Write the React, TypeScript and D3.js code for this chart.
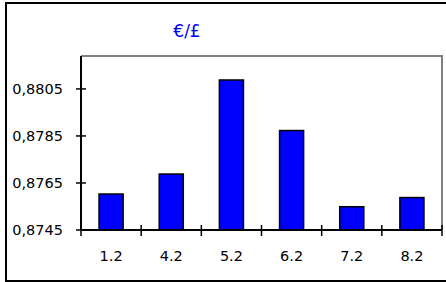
import { useEffect, useRef } from "react";
import { select, scaleBand, scaleLinear } from "d3";

const categories = ["1.2", "4.2", "5.2", "6.2", "7.2", "8.2"];
const rates = [0.87603, 0.87688, 0.88088, 0.87873, 0.87549, 0.87588];
const yTicks = [0.8745, 0.8765, 0.8785, 0.8805];
const yMin = 0.8745;
const yMax = 0.8819;

export default function App() {
  const svgRef = useRef<SVGSVGElement>(null);

  useEffect(() => {
    const plot = { left: 81, right: 442, top: 56, bottom: 230 };
    const font = "'DejaVu Sans', Verdana, sans-serif";

    const svg = select(svgRef.current);
    svg.selectAll("*").remove();

    // outer chart frame (right side falls off the picture)
    svg.append("rect")
      .attr("x", 6)
      .attr("y", 3)
      .attr("width", 446)
      .attr("height", 278)
      .attr("fill", "white")
      .attr("stroke", "black")
      .attr("stroke-width", 2);

    const x = scaleBand()
      .domain(categories)
      .range([plot.left, plot.right])
      .paddingInner(0.6)
      .paddingOuter(0.3);

    const y = scaleLinear()
      .domain([yMin, yMax])
      .range([plot.bottom, plot.top]);

    // plot area border: grey top and right
    svg.append("path")
      .attr("d", `M${plot.left},${plot.top}H${plot.right}V${plot.bottom}`)
      .attr("fill", "none")
      .attr("stroke", "#808080")
      .attr("stroke-width", 2);

    // bars
    svg.selectAll("rect.bar")
      .data(rates)
      .enter()
      .append("rect")
      .attr("class", "bar")
      .attr("x", (d, i) => x(categories[i]))
      .attr("y", d => y(d))
      .attr("width", x.bandwidth())
      .attr("height", d => y(yMin) - y(d))
      .attr("fill", "#0000ff")
      .attr("stroke", "black")
      .attr("stroke-width", 1.5);

    // y axis
    svg.append("line")
      .attr("x1", plot.left).attr("x2", plot.left)
      .attr("y1", plot.top).attr("y2", plot.bottom)
      .attr("stroke", "black").attr("stroke-width", 2);

    yTicks.forEach(t => {
      svg.append("line")
        .attr("x1", plot.left - 5).attr("x2", plot.left + 5)
        .attr("y1", y(t)).attr("y2", y(t))
        .attr("stroke", "black").attr("stroke-width", 1.5);
      svg.append("text")
        .attr("x", 63)
        .attr("y", y(t))
        .attr("text-anchor", "end")
        .attr("dominant-baseline", "central")
        .attr("font-family", font)
        .attr("font-size", "14.5px")
        .attr("fill", "black")
        .text(t.toFixed(4).replace(".", ","));
    });

    // x axis
    svg.append("line")
      .attr("x1", plot.left).attr("x2", plot.right)
      .attr("y1", plot.bottom).attr("y2", plot.bottom)
      .attr("stroke", "black").attr("stroke-width", 2);

    const step = x.step();
    const boundaries = categories.map((c, i) => plot.left + i * step).concat([plot.right]);
    boundaries.forEach(bx => {
      svg.append("line")
        .attr("x1", bx).attr("x2", bx)
        .attr("y1", plot.bottom - 5).attr("y2", plot.bottom + 6)
        .attr("stroke", "black").attr("stroke-width", 1.5);
    });

    svg.selectAll("text.xlabel")
      .data(categories)
      .enter()
      .append("text")
      .attr("class", "xlabel")
      .attr("x", d => x(d) + x.bandwidth() / 2)
      .attr("y", 260.5)
      .attr("text-anchor", "middle")
      .attr("font-family", font)
      .attr("font-size", "14.5px")
      .attr("fill", "black")
      .text(d => d);

    // title
    svg.append("text")
      .attr("x", 187)
      .attr("y", 37)
      .attr("text-anchor", "middle")
      .attr("font-family", font)
      .attr("font-size", "17px")
      .attr("fill", "#0000ff")
      .text("€/£");
  }, []);

  return (
    <svg
      ref={svgRef}
      width={446}
      height={282}
      style={{ position: "absolute", left: 0, top: 0, display: "block" }}
    />
  );
}
